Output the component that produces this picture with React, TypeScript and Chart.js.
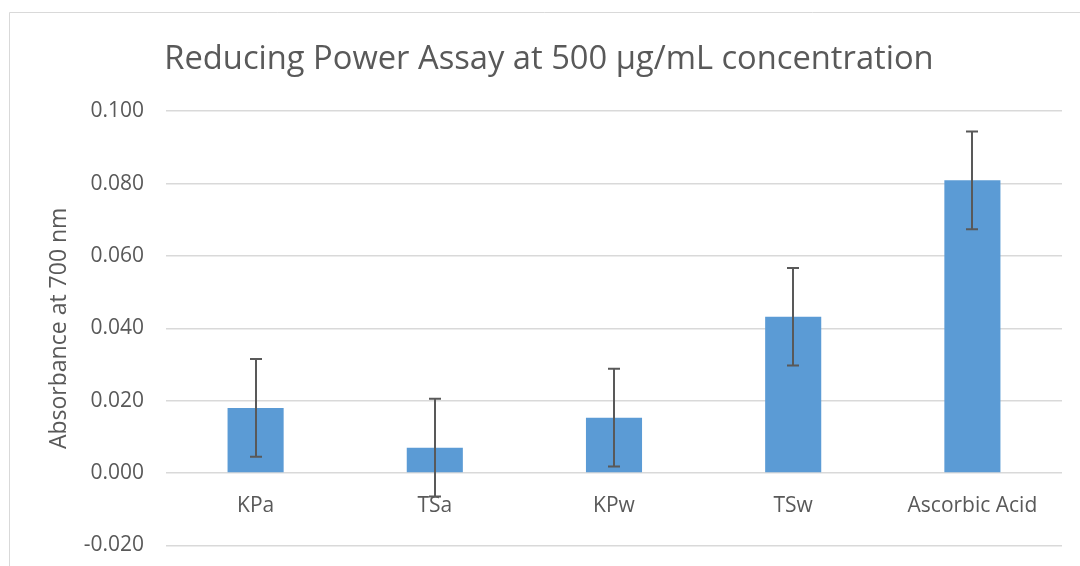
import React, { useEffect, useRef } from "react";
import { Chart, registerables } from "chart.js";

Chart.register(...registerables);

const categories = ["KPa", "TSa", "KPw", "TSw", "Ascorbic Acid"];
const absorbance = [0.018, 0.007, 0.0153, 0.0432, 0.0809];
const errorValues = [0.0135, 0.0135, 0.0135, 0.0135, 0.0135];
const yTicks = [-0.02, 0, 0.02, 0.04, 0.06, 0.08, 0.1];

const TEXT = "#595959";
const GRID = "#d9d9d9";
const FONT = "'Open Sans', sans-serif";

const framePlugin = {
  id: "frame",
  beforeDraw(chart: any) {
    const ctx = chart.ctx;
    ctx.save();
    ctx.fillStyle = "#ffffff";
    ctx.fillRect(0, 0, chart.width, chart.height);
    ctx.strokeStyle = GRID;
    ctx.lineWidth = 1;
    ctx.beginPath();
    ctx.moveTo(9.5, chart.height);
    ctx.lineTo(9.5, 12.5);
    ctx.lineTo(chart.width, 12.5);
    ctx.stroke();
    ctx.restore();
  },
};

const errorBarPlugin = {
  id: "errorBars",
  afterDatasetsDraw(chart: any) {
    const ctx = chart.ctx;
    const meta = chart.getDatasetMeta(0);
    const yScale = chart.scales.y;
    ctx.save();
    ctx.strokeStyle = "#595959";
    ctx.lineWidth = 2;
    meta.data.forEach((bar: any, i: number) => {
      const v = absorbance[i];
      const e = errorValues[i];
      const x = Math.round(bar.x);
      const yTop = yScale.getPixelForValue(v + e);
      const yBot = yScale.getPixelForValue(v - e);
      const half = 6;
      ctx.beginPath();
      ctx.moveTo(x, yTop);
      ctx.lineTo(x, yBot);
      ctx.moveTo(x - half, yTop);
      ctx.lineTo(x + half, yTop);
      ctx.moveTo(x - half, yBot);
      ctx.lineTo(x + half, yBot);
      ctx.stroke();
    });
    ctx.restore();
  },
};

export default function App() {
  const ref = useRef<HTMLCanvasElement | null>(null);

  useEffect(() => {
    document.body.style.overflow = "hidden";
    if (!ref.current) return;
    const chart = new Chart(ref.current, {
      type: "bar",
      data: {
        labels: categories,
        datasets: [
          {
            data: absorbance,
            backgroundColor: "#5B9BD5",
            borderWidth: 0,
            categoryPercentage: 1,
            barPercentage: 0.313,
          },
        ],
      },
      options: {
        animation: false,
        responsive: false,
        maintainAspectRatio: false,
        layout: { padding: { left: 36, right: 18, top: 0, bottom: 7 } },
        plugins: {
          legend: { display: false },
          tooltip: { enabled: false },
          title: {
            display: true,
            text: "Reducing Power Assay at 500 μg/mL concentration",
            color: TEXT,
            font: { family: FONT, size: 32.7, weight: "normal", lineHeight: 1.2 },
            padding: { top: 40, bottom: 32 },
          },
        },
        scales: {
          x: {
            position: { y: 0 } as any,
            grid: { display: false, drawTicks: false },
            border: { display: false },
            ticks: {
              color: TEXT,
              font: { family: FONT, size: 21 },
              padding: 20,
              maxRotation: 0,
              autoSkip: false,
            },
          },
          y: {
            min: -0.02,
            max: 0.1,
            afterFit(scale: any) {
              scale.width = 130;
            },
            afterBuildTicks(scale: any) {
              scale.ticks = yTicks.map((v) => ({ value: v }));
            },
            grid: { color: GRID, lineWidth: 1.5, drawTicks: false },
            border: { display: false },
            ticks: {
              color: TEXT,
              font: { family: FONT, size: 21 },
              padding: 22,
              callback: (v: any) => Number(v).toFixed(3),
            },
            title: {
              display: true,
              text: "Absorbance at 700 nm",
              color: TEXT,
              font: { family: FONT, size: 23, lineHeight: 1.2 },
              padding: { top: 10, bottom: 0 },
            },
          },
        },
      },
      plugins: [framePlugin, errorBarPlugin],
    });
    return () => chart.destroy();
  }, []);

  return (
    <canvas
      ref={ref}
      width={1080}
      height={580}
      style={{ position: "fixed", left: 0, top: 0, width: 1080, height: 580, display: "block" }}
    />
  );
}
